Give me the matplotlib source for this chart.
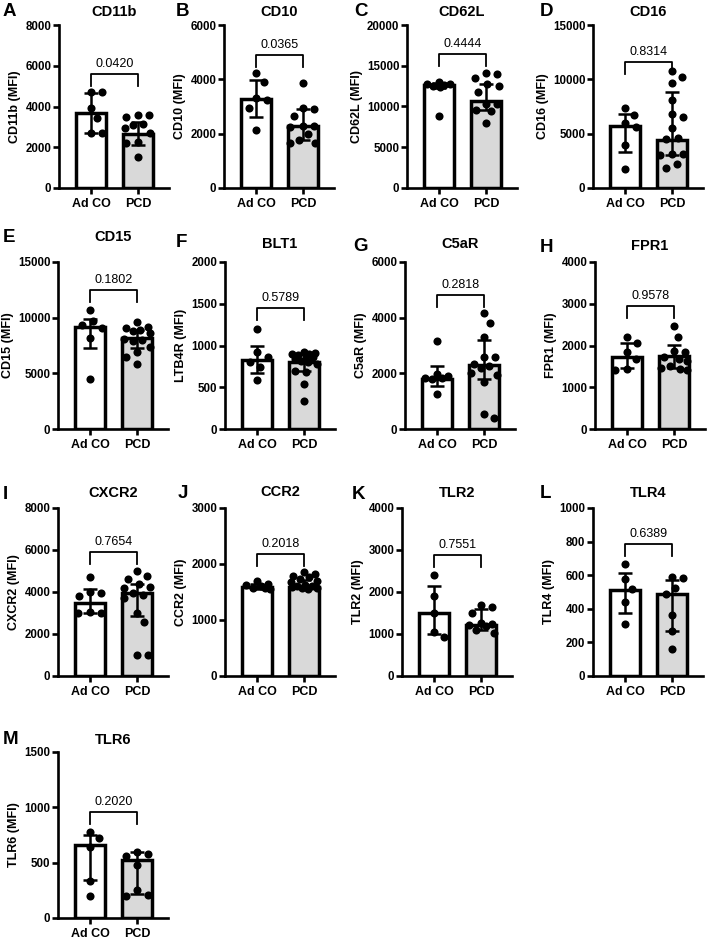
import numpy as np
import matplotlib
matplotlib.use("Agg")
import matplotlib.pyplot as plt

plt.rcParams['font.family'] = ['Liberation Sans', 'DejaVu Sans']

W, H, DPI = 708, 939, 100

letters = list("ABCDEFGHIJKLM")
titles = ["CD11b", "CD10", "CD62L", "CD16", "CD15", "BLT1", "C5aR", "FPR1",
          "CXCR2", "CCR2", "TLR2", "TLR4", "TLR6"]
ylabels = ["CD11b (MFI)", "CD10 (MFI)", "CD62L (MFI)", "CD16 (MFI)", "CD15 (MFI)",
           "LTB4R (MFI)", "C5aR (MFI)", "FPR1 (MFI)", "CXCR2 (MFI)", "CCR2 (MFI)",
           "TLR2 (MFI)", "TLR4 (MFI)", "TLR6 (MFI)"]
groups = ["Ad CO", "PCD"]
ymax = [8000, 6000, 20000, 15000, 15000, 2000, 6000, 4000, 8000, 3000, 4000, 1000, 1500]
ystep = [2000, 2000, 5000, 5000, 5000, 500, 2000, 1000, 2000, 1000, 1000, 200, 500]
pvalues = ["0.0420", "0.0365", "0.4444", "0.8314", "0.1802", "0.5789", "0.2818",
           "0.9578", "0.7654", "0.2018", "0.7551", "0.6389", "0.2020"]
bracket_y = [5600, 4900, 16400, 11600, 12500, 1450, 4830, 2940, 5900, 2170, 2890, 786, 957]

adco_bar = [3700, 3260, 12650, 5750, 9190, 828, 1780, 1720, 3490, 1590, 1490, 510, 660]
adco_err = [(2700, 4650), (2620, 3960), (12300, 12900), (3300, 6800), (7250, 9850),
            (668, 1000), (1550, 2260), (1450, 2060), (3000, 4160), (1560, 1650),
            (1000, 2140), (376, 616), (340, 750)]
pcd_bar = [2660, 2290, 10700, 4380, 8150, 808, 2300, 1740, 3970, 1590, 1210, 486, 525]
pcd_err = [(2120, 3230), (1780, 2900), (9600, 12800), (3060, 8880), (7300, 8900),
           (690, 900), (1800, 3200), (1450, 2020), (2850, 4400), (1580, 1720),
           (1090, 1600), (266, 570), (220, 600)]

adco_dots = [
    [4730, 4730, 3920, 3430, 2690, 2690],
    [4220, 3900, 3300, 3250, 2950, 2150],
    [12950, 12800, 12700, 12600, 12500, 12400, 8800],
    [7350, 6730, 5970, 5600, 3920, 1750],
    [10700, 9700, 9300, 9100, 8200, 4500],
    [1200, 920, 868, 808, 748, 588],
    [3150, 1960, 1900, 1850, 1850, 1780, 1270],
    [2200, 2050, 1850, 1680, 1440, 1420],
    [4700, 4000, 3950, 3800, 3050, 3000, 3000],
    [1700, 1640, 1620, 1600, 1580, 1570, 1560],
    [2400, 1900, 1500, 1050, 930],
    [666, 576, 520, 440, 312],
    [780, 720, 640, 330, 200],
]
pcd_dots = [
    [3560, 3560, 3480, 3150, 3100, 2940, 2690, 2240, 2200, 1500],
    [3850, 2950, 2900, 2650, 2300, 2300, 2250, 2000, 1750, 1650, 1650],
    [14100, 14000, 13500, 12700, 12500, 11800, 10300, 10300, 9600, 9400, 8000],
    [10780, 10250, 9700, 8110, 6800, 6490, 5510, 4590, 4500, 3150, 3150, 3060, 2200, 1840],
    [9600, 9200, 9100, 8900, 8800, 8600, 8100, 8000, 7900, 7400, 6900, 6500, 5800],
    [920, 910, 900, 900, 890, 880, 860, 840, 820, 800, 780, 700, 680, 540, 330],
    [4150, 3800, 3300, 2600, 2600, 2350, 2250, 2200, 2000, 1950, 1700, 550, 380],
    [2460, 2200, 1860, 1840, 1720, 1680, 1620, 1500, 1450, 1430, 1420],
    [4980, 4740, 4610, 4370, 4240, 4200, 3970, 3850, 3730, 3010, 2560, 1010, 1000],
    [1850, 1830, 1790, 1760, 1740, 1700, 1680, 1620, 1600, 1600, 1590, 1580, 1570, 1560],
    [1680, 1640, 1490, 1260, 1240, 1220, 1200, 1090, 1030],
    [592, 582, 526, 486, 366, 270, 160],
    [600, 580, 560, 480, 250, 210, 200],
]

# layout in pixels: spine x, axis top y, axis bottom y, title y, letter x, letter y
layout = [
    (59, 25, 188, 12, 3, 12), (224, 25, 188, 12, 176, 12),
    (407, 25, 188, 12, 354, 12), (593, 25, 188, 12, 540, 12),
    (58, 262, 429, 237, 3, 237), (225, 262, 429, 244, 176, 243),
    (405, 262, 429, 244, 353, 246), (595, 262, 429, 246, 540, 247),
    (58, 508, 676, 493, 3, 495), (225, 508, 676, 492, 178, 493),
    (402, 508, 676, 493, 352, 495), (593, 508, 676, 493, 540, 493),
    (58, 752, 918, 740, 3, 740),
]
AX_W = 110
X0, X1 = -0.68, 1.66
BAR_W = 0.64


def swarm(values, sy, sx, max_off=13.0, coll=11.5):
    # greedy beeswarm in pixel space, returns x offsets in data units
    values = np.asarray(values, dtype=float)
    offs = np.zeros(len(values))
    placed = []
    cands = sorted(np.arange(-max_off, max_off + 0.01, 0.5), key=lambda c: (abs(c), -c))
    for i in np.argsort(-values, kind="stable"):
        y = values[i] * sy
        pick, best_d = 0.0, -1.0
        for c in cands:
            d = min([np.hypot(c - px, y - py) for px, py in placed], default=1e9)
            if d >= coll:
                pick = c
                break
            if d > best_d:
                best_d, pick = d, c
        placed.append((pick, y))
        offs[i] = pick / sx
    return offs


fig = plt.figure(figsize=(W / DPI, H / DPI), dpi=DPI)

for k in range(13):
    sx_px, top, bot, ty, lx, ly = layout[k]
    ax = fig.add_axes([sx_px / W, 1 - bot / H, AX_W / W, (bot - top) / H])
    ax.set_xlim(X0, X1)
    ax.set_ylim(0, ymax[k])

    ax.bar([0, 1], [adco_bar[k], pcd_bar[k]], width=BAR_W, color=["white", "#d9d9d9"],
           edgecolor="black", linewidth=2.5, zorder=2)

    px_y = (bot - top) / ymax[k]
    px_x = AX_W / (X1 - X0)
    for xi, dots in enumerate([adco_dots[k], pcd_dots[k]]):
        offs = swarm(dots, px_y, px_x)
        ax.scatter(xi + offs, dots, s=34, color="black", zorder=3, clip_on=False,
                   linewidths=0)

    for xi, (bar, (lo, hi)) in enumerate([(adco_bar[k], adco_err[k]), (pcd_bar[k], pcd_err[k])]):
        ax.errorbar([xi], [bar], yerr=[[bar - lo], [hi - bar]], fmt="none",
                    ecolor="black", elinewidth=1.8, capsize=4.8, capthick=1.8, zorder=4)

    # significance bracket
    by = bracket_y[k]
    leg = 12 / px_y
    ax.plot([0, 0, 1, 1], [by - leg, by, by, by - leg], color="black", lw=1.3,
            zorder=5, clip_on=False)
    ax.text(0.5, by + 4 / px_y, pvalues[k], ha="center", va="bottom", fontsize=9)

    for s in ["top", "right"]:
        ax.spines[s].set_visible(False)
    for s in ["left", "bottom"]:
        ax.spines[s].set_linewidth(1.9)
    ax.set_yticks(np.arange(0, ymax[k] + 1, ystep[k]))
    ax.set_xticks([0, 1])
    ax.set_xticklabels(groups, fontweight="bold", fontsize=9)
    ax.tick_params(axis="both", width=1.9, length=4)
    ax.tick_params(axis="x", pad=3)
    ax.tick_params(axis="y", pad=1.5)
    for lab in ax.get_yticklabels():
        lab.set_fontweight("bold")
        lab.set_fontsize(8.3)
    ax.set_ylabel(ylabels[k], fontweight="bold", fontsize=9, labelpad=3)

    cx = (sx_px + AX_W / 2) / W
    fig.text(cx, 1 - ty / H, titles[k], ha="center", va="center",
             fontweight="bold", fontsize=10.5)
    fig.text(lx / W, 1 - ly / H, letters[k], ha="left", va="center",
             fontweight="bold", fontsize=13.5)

fig.savefig("out.png", dpi=DPI)
